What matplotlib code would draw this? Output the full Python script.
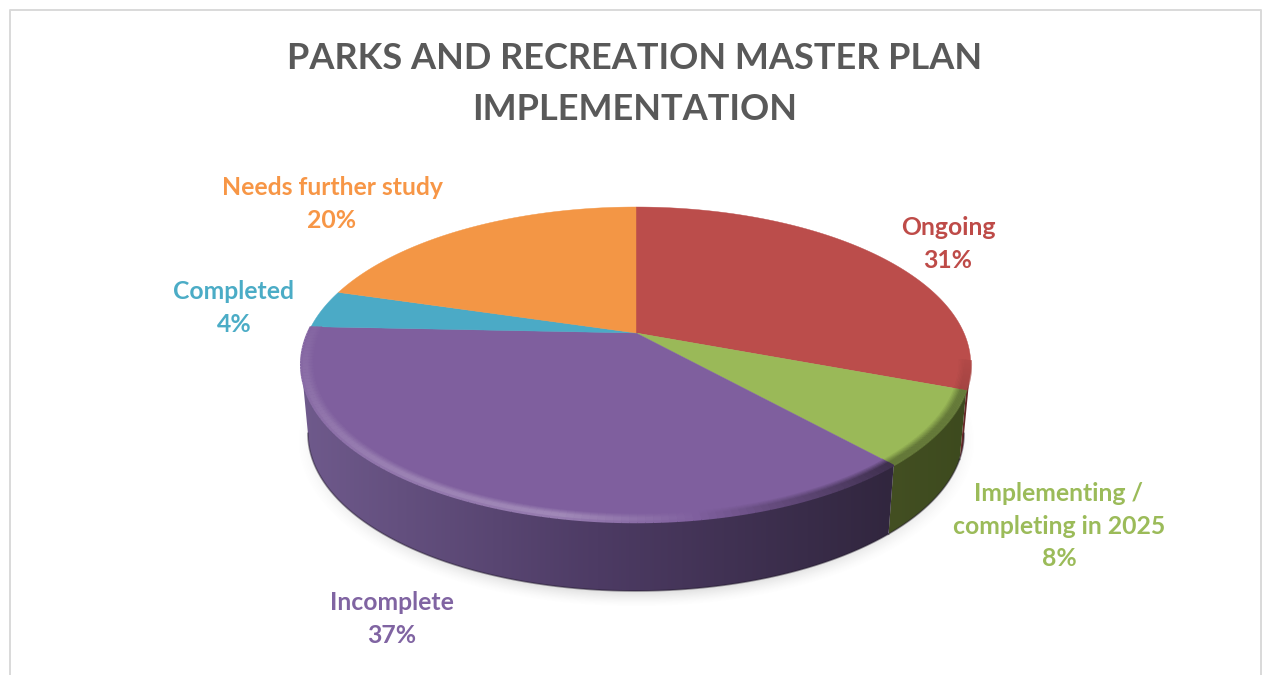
import numpy as np
import matplotlib
matplotlib.use('Agg')
import matplotlib.pyplot as plt
from matplotlib.collections import LineCollection
from matplotlib.colors import LinearSegmentedColormap, to_rgb
from matplotlib.patches import Polygon

plt.rcParams['font.family'] = ['Lato', 'DejaVu Sans']

title = 'PARKS AND RECREATION MASTER PLAN\nIMPLEMENTATION'
names = ['Ongoing', 'Implementing /\ncompleting in 2025', 'Incomplete', 'Completed', 'Needs further study']
values = [30.7, 7.6, 37.3, 3.9, 20.4]
face_colors = ['#BB4D4B', '#9AB958', '#7F5F9E', '#4BAAC6', '#F39645']
label_colors = ['#BE4B48', '#9BBB59', '#8064A2', '#4BACC6', '#F79646']
wall_colors = [['#6E2B2A', '#5A2322'], ['#434F22', '#3D4A1E'], ['#6F5A8C', '#4D3B64', '#31263E'], None, None]
label_pos = [(948, 244), (1059, 526), (392, 619), (234, 308), (332, 204)]

# projection of the pie disc, in pixels
CX, CY = 636, 333
BX, AY, P = 328, 151.2, 0.2
DEPTH = 69
XSCALE = 0.98


def project(theta, r=1.0):
    # theta in degrees, clockwise from 12 o'clock
    t = np.radians(theta)
    u, v = r*np.sin(t), r*np.cos(t)
    w = 1 + P*v
    return CX + BX*u/w, CY - AY*v/w


def project_bottom(theta):
    x, y = project(theta)
    return CX + (x - CX)*XSCALE, y + DEPTH


fig = plt.figure(figsize=(12.62, 6.75), dpi=100)
ax = fig.add_axes([0, 0, 1, 1])

# soft shadow under the disc
xx, yy = np.meshgrid(np.arange(250, 1020), np.arange(300, 640))
dist = np.sqrt(((xx - 636)/340.0)**2 + ((yy - 441)/166.0)**2)
shadow = np.zeros(xx.shape + (4,))
shadow[..., :3] = 0.45
shadow[..., 3] = 0.2*np.clip((1.0 - dist)/0.09, 0, 1)**1.5
ax.imshow(shadow, extent=(250, 1020, 640, 300), zorder=1, interpolation='bilinear')

edges = np.concatenate([[0], np.cumsum(values)])/np.sum(values)*360
VIS_R, VIS_L = 101.5, 258.5

# side wall
for i in range(len(values)):
    a, b = max(edges[i], VIS_R), min(edges[i+1], VIS_L)
    if wall_colors[i] is None or b <= a:
        continue
    th = np.linspace(a, b, 150)
    tx, ty = project(th)
    bx, by = project_bottom(th)
    poly = Polygon(np.column_stack([np.r_[tx, bx[::-1]], np.r_[ty, by[::-1]]]), closed=True,
                   facecolor='none', edgecolor='none', zorder=2)
    ax.add_patch(poly)
    cmap = LinearSegmentedColormap.from_list('wall', wall_colors[i][::-1])
    x0, x1 = min(tx.min(), bx.min()), max(tx.max(), bx.max())
    y0, y1 = min(ty.min(), by.min()), max(ty.max(), by.max())
    im = ax.imshow(np.linspace(1, 0, 256).reshape(1, -1), cmap=cmap, vmin=0, vmax=1,
                   extent=(x0, x1, y1, y0), zorder=2, interpolation='bilinear')
    im.set_clip_path(poly)
    ax.plot(bx, by, color='#1E1628', alpha=0.45, lw=1.2, zorder=2.1)

# top face
for i in range(len(values)):
    th = np.linspace(edges[i], edges[i+1], 200)
    x, y = project(th)
    ax.fill(np.r_[CX, x], np.r_[CY, y], color=face_colors[i], lw=0.3, zorder=3)

# bevel along the front rim: amount of light (+) or dark (-) per angle
bevel_th = {0: [100, 110.5], 1: [110.5, 138], 2: [138, 160, 172, 190, 215, 245, 273]}
bevel_amt = {0: [-0.05, -0.12], 1: [-0.35, -0.35], 2: [-0.5, -0.2, 0.02, 0.26, 0.22, 0.12, 0.04]}
radii = np.linspace(0.965, 1.0, 10)
for i, th_knots in bevel_th.items():
    a, b = max(edges[i], th_knots[0]), edges[i+1]
    th = np.linspace(a, b, 120)
    base = np.array(to_rgb(face_colors[i]))
    amt = np.interp(th[:-1], th_knots, bevel_amt[i])
    for r in radii:
        prof = np.clip((r - 0.965)/0.02, 0, 1)*np.ones_like(amt)
        prof = prof*np.where(amt > 0, np.clip((1.0 - r)/0.01 + 0.7, 0, 1), 1)
        x, y = project(th, r)
        pts = np.column_stack([x, y])
        segs = np.stack([pts[:-1], pts[1:]], axis=1)
        k = amt*prof
        cols = np.where(k[:, None] > 0, base + (1 - base)*k[:, None], base*(1 + k[:, None]))
        ax.add_collection(LineCollection(segs, colors=np.clip(cols, 0, 1), linewidths=1.8,
                                         capstyle='butt', zorder=3.5))

# labels
for name, val, pos, col in zip(names, values, label_pos, label_colors):
    ax.text(pos[0], pos[1], f'{name}\n{val:.0f}%', color=col, fontsize=17.8, fontweight='bold',
            ha='center', va='center', linespacing=1.5, zorder=5)

ax.text(635, 84, title, color='#595959', fontsize=26, fontweight='bold',
        ha='center', va='center', linespacing=1.64, zorder=5)

# chart border, open at the bottom
ax.plot([9.5, 9.5, 1261, 1261], [675, 9.5, 9.5, 675], color='#D9D9D9', lw=1.4, zorder=6)

ax.set_xlim(0, 1262)
ax.set_ylim(675, 0)
ax.set_aspect('auto')
ax.axis('off')

plt.savefig('out.png', dpi=100)
